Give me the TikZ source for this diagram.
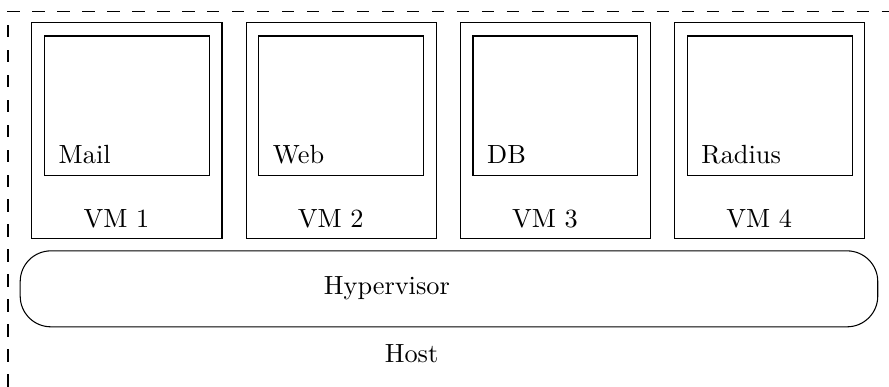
\documentclass[tikz,border=0pt]{standalone}
\usetikzlibrary{positioning,calc}
\tikzset{vmbox/.style={draw,minimum width=2.54cm,minimum height=2.886cm,inner sep=0pt},
  appbox/.style={draw,minimum width=2.204cm,minimum height=1.87cm,inner sep=0pt},
  hypbox/.style={draw,rounded corners=.41cm,minimum width=11.46cm,minimum height=1.015cm,inner sep=0pt},
  hostline/.style={dash pattern=on 4.7pt off 4.8pt},
  txt/.style={inner sep=0pt}}

\begin{document}
\begin{tikzpicture}
\useasboundingbox (0,0) rectangle (11.88,5.17);
% host frame, runs off the page on the right and at the bottom
\draw[hostline] (.107,-1) -- (.107,5.02) -- (13,5.02);
\foreach \i/\app in {1/Mail,2/Web,3/DB,4/Radius}{
 \node[vmbox] (vm\i) at ({1.697+2.863*(\i-1)},3.42) {};
 \node[appbox] (app\i) at ($(vm\i.center)+(0,.334)$) {};
 \node[txt,anchor=base west] (lab\i) at ($(app\i.south west)+(.19,.174)$) {\app};
 \node[txt,anchor=base] (name\i) at ($(vm\i.south)+(-.14,.16)$) {VM \i};
}
\node[hypbox] (hyp) at (6.0,1.31) {};
\node[txt,anchor=base] (hyplab) at (5.17,1.229) {Hypervisor};
\node[txt,anchor=base] (host) at (5.50,.32) {Host};
\end{tikzpicture}
\end{document}
